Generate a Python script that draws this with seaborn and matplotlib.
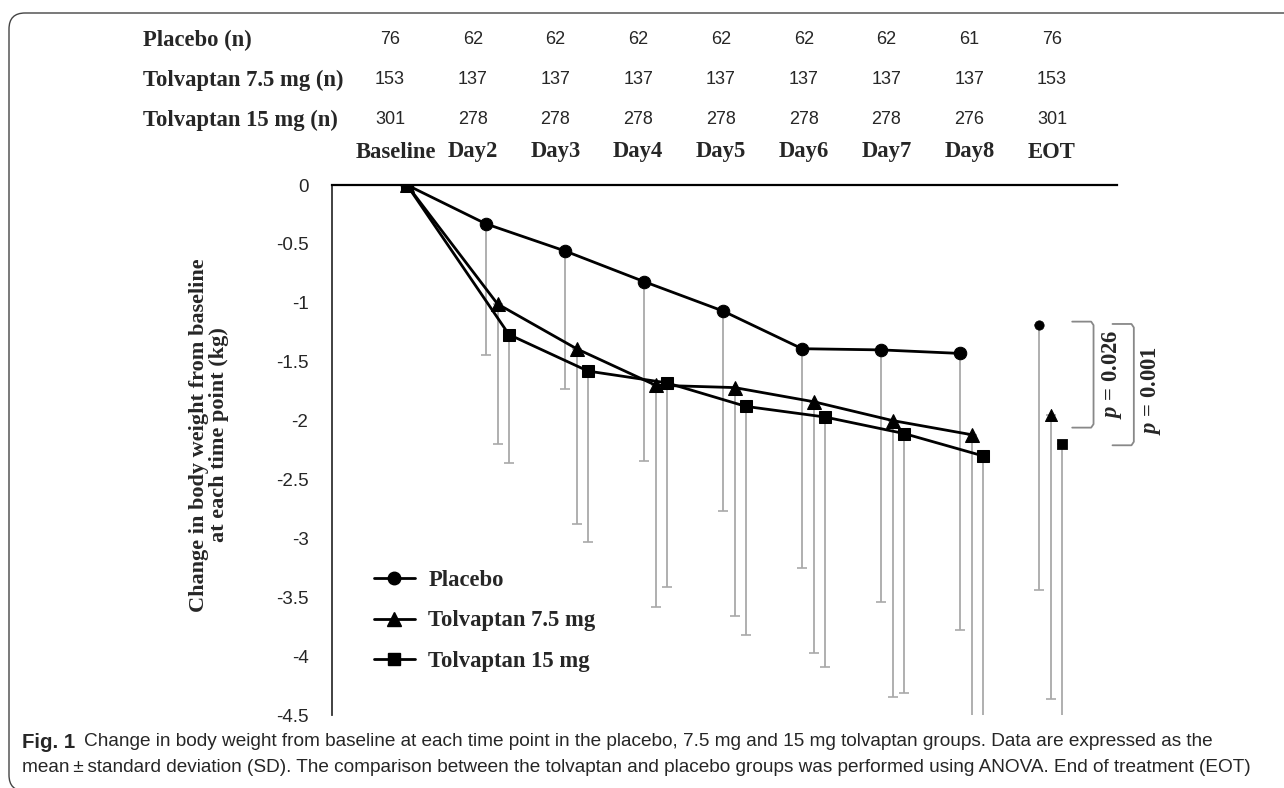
import numpy as np
import pandas as pd
import matplotlib
matplotlib.use('Agg')
import matplotlib.pyplot as plt
import matplotlib.transforms as mtransforms
from matplotlib.patches import FancyBboxPatch
from matplotlib.lines import Line2D
import seaborn as sns

# ---- data ----
timepoints = ['Baseline', 'Day2', 'Day3', 'Day4', 'Day5', 'Day6', 'Day7', 'Day8', 'EOT']
groups = ['Placebo', 'Tolvaptan 7.5 mg', 'Tolvaptan 15 mg']

n_placebo = [76, 62, 62, 62, 62, 62, 62, 61, 76]
n_tol75 = [153, 137, 137, 137, 137, 137, 137, 137, 153]
n_tol15 = [301, 278, 278, 278, 278, 278, 278, 276, 301]

mean_placebo = [0, -0.33, -0.56, -0.82, -1.07, -1.39, -1.40, -1.43, -1.19]
mean_tol75 = [0, -1.01, -1.39, -1.70, -1.72, -1.84, -2.00, -2.12, -1.95]
mean_tol15 = [0, -1.27, -1.58, -1.68, -1.88, -1.97, -2.11, -2.30, -2.20]

sd_placebo = [0, 1.11, 1.17, 1.52, 1.70, 1.86, 2.14, 2.35, 2.25]
sd_tol75 = [0, 1.19, 1.49, 1.88, 1.94, 2.13, 2.35, 2.80, 2.41]
sd_tol15 = [0, 1.09, 1.45, 1.73, 1.94, 2.12, 2.20, 2.60, 2.60]

p_values = ['0.026', '0.001']

caption_1 = ('Change in body weight from baseline at each time point in the placebo, '
             '7.5 mg and 15 mg tolvaptan groups. Data are expressed as the')
caption_2 = ('mean\u2009\u00b1\u2009standard deviation (SD). The comparison between the tolvaptan '
             'and placebo groups was performed using ANOVA. End of treatment (EOT)')

# ---- long table ----
offsets = {'Placebo': 0.0, 'Tolvaptan 7.5 mg': 0.146, 'Tolvaptan 15 mg': 0.291}
means = {'Placebo': mean_placebo, 'Tolvaptan 7.5 mg': mean_tol75, 'Tolvaptan 15 mg': mean_tol15}
sds = {'Placebo': sd_placebo, 'Tolvaptan 7.5 mg': sd_tol75, 'Tolvaptan 15 mg': sd_tol15}
rows = []
for g in groups:
    for i, t in enumerate(timepoints):
        xpos = i + (offsets[g] if i > 0 else 0.0)
        rows.append(dict(group=g, time=t, xpos=xpos, mean=means[g][i], sd=sds[g][i]))
df = pd.DataFrame(rows)
df_days = df[df.time != 'EOT']
df_eot = df[df.time == 'EOT']

# ---- styling ----
sns.set_theme(style='white')
plt.rcParams['font.family'] = ['Liberation Sans', 'DejaVu Sans']
plt.rcParams['axes.unicode_minus'] = False
plt.rcParams['mathtext.fontset'] = 'custom'
plt.rcParams['mathtext.it'] = 'Liberation Serif:italic:bold'
plt.rcParams['mathtext.rm'] = 'Liberation Serif:bold'

W, H = 1284, 788
fig = plt.figure(figsize=(W / 100, H / 100), dpi=100)
fig.patch.set_facecolor('white')
ax = fig.add_axes([332 / W, 1 - 715 / H, 785 / W, 530 / H])

markers = {'Placebo': 'o', 'Tolvaptan 7.5 mg': '^', 'Tolvaptan 15 mg': 's'}
msize = {'Placebo': 9, 'Tolvaptan 7.5 mg': 10.5, 'Tolvaptan 15 mg': 8.5}
eot_size = {'Placebo': 45, 'Tolvaptan 7.5 mg': 75, 'Tolvaptan 15 mg': 50}

# error bars (lower half only)
for g in groups:
    sub = df[(df.group == g) & (df.sd > 0)]
    ax.errorbar(sub.xpos, sub['mean'], yerr=[sub.sd, np.zeros(len(sub))], fmt='none',
                ecolor='#a9a9a9', elinewidth=1.3, capsize=3.5, capthick=1.2, zorder=1)

for g in groups:
    sub = df_days[df_days.group == g]
    sns.lineplot(data=sub, x='xpos', y='mean', sort=False, color='black', linewidth=2,
                 marker=markers[g], markersize=msize[g], markeredgecolor='black',
                 ax=ax, zorder=3)
    sub = df_eot[df_eot.group == g]
    sns.scatterplot(data=sub, x='xpos', y='mean', marker=markers[g], s=eot_size[g],
                    color='black', edgecolor='black', ax=ax, zorder=3, legend=False)

ax.set_xlim(-0.949, 8.987)
ax.set_ylim(-4.5, 0)
ticks = np.arange(0, -4.51, -0.5)
ax.set_yticks(ticks)
ax.set_yticklabels([f'{v:g}' for v in ticks], fontsize=13.5)
ax.set_xticks([])
ax.set_xlabel('')
ax.set_ylabel('')
ax.tick_params(axis='y', length=0, pad=17)
for s in ['right', 'bottom']:
    ax.spines[s].set_visible(False)
ax.spines['top'].set_linewidth(1.6)
ax.spines['left'].set_linewidth(1.3)
ax.spines['top'].set_color('black')
ax.spines['left'].set_color('#333333')

# y label
fig.text(209 / W, 1 - 435 / H, 'Change in body weight from baseline\nat each time point (kg)',
         rotation=90, ha='center', va='center', family='Liberation Serif',
         weight='bold', fontsize=16, linespacing=1.03)

# header table
trans = mtransforms.blended_transform_factory(ax.transData, fig.transFigure)
serif_b = dict(family='Liberation Serif', weight='bold', size=16.3)
row_y = [40, 80, 120]
row_names = ['Placebo (n)', 'Tolvaptan 7.5 mg (n)', 'Tolvaptan 15 mg (n)']
for yy, name, ns in zip(row_y, row_names, [n_placebo, n_tol75, n_tol15]):
    fig.text(143 / W, 1 - yy / H, name, ha='left', va='center', **serif_b)
    for i, n in enumerate(ns):
        ax.text(i * 1.0475 - 0.215, 1 - yy / H, str(n), transform=trans, ha='center',
                va='center', fontsize=13)
for i, t in enumerate(timepoints):
    shift = 0.07 if i == 0 else 0.0
    ax.text(i * 1.0475 - 0.215 + shift, 1 - 152 / H, t, transform=trans, ha='center',
            va='center', **serif_b)

# legend
handles = [Line2D([0], [0], color='black', lw=2, marker=markers[g], markersize=msize[g])
           for g in groups]
ax.legend(handles, groups, loc='upper left', bbox_to_anchor=(374 / W, 1 - 570 / H),
          bbox_transform=fig.transFigure, frameon=False, prop=serif_b,
          handlelength=1.8, handletextpad=0.6, labelspacing=0.86,
          borderpad=0, borderaxespad=0)

# p-value brackets next to EOT
eot_x = len(timepoints) - 1
top = mean_placebo[-1]
for k, (bottom, p) in enumerate(zip([mean_tol75[-1], mean_tol15[-1]], p_values)):
    x0 = eot_x + 0.42 + k * 0.51
    x1 = x0 + 0.27
    y0 = top + 0.03 - k * 0.02
    y1 = bottom - 0.11 + k * 0.10
    ax.plot([x0, x1 - 0.03, x1, x1, x1 - 0.03, x0], [y0, y0, y0 - 0.03, y1 + 0.03, y1, y1],
            color='#888888', lw=1.3, clip_on=False, solid_joinstyle='round')
    ax.text(x1 + 0.24 - k * 0.02, (y0 + y1) / 2 - k * 0.05, f'$p$ = {p}', rotation=90,
            ha='center', va='center', clip_on=False, **serif_b)

# caption, sized so that the second line fills the frame width
cap_kw = dict(family=['Liberation Sans', 'DejaVu Sans'], ha='left', va='center')
t2 = fig.text(22 / W, 1 - 767 / H, caption_2, fontsize=14, **cap_kw)
fig.canvas.draw()
cap_size = 14 * 1245 / t2.get_window_extent().width
t2.set_fontsize(cap_size)
cap1 = fig.text(22 / W, 1 - 742 / H, 'Fig. 1', weight='bold', fontsize=cap_size + 1, **cap_kw)
fig.canvas.draw()
bb = cap1.get_window_extent()
fig.text((bb.x1 + 9) / W, 1 - 742 / H, caption_1, fontsize=cap_size, **cap_kw)

# journal frame
frame = FancyBboxPatch((0.09, -0.03), 13.5, 7.78, boxstyle='round,pad=0,rounding_size=0.16',
                       transform=fig.dpi_scale_trans, fill=False, ec='#444444', lw=1.0)
fig.add_artist(frame)

fig.savefig('out.png', dpi=100)
